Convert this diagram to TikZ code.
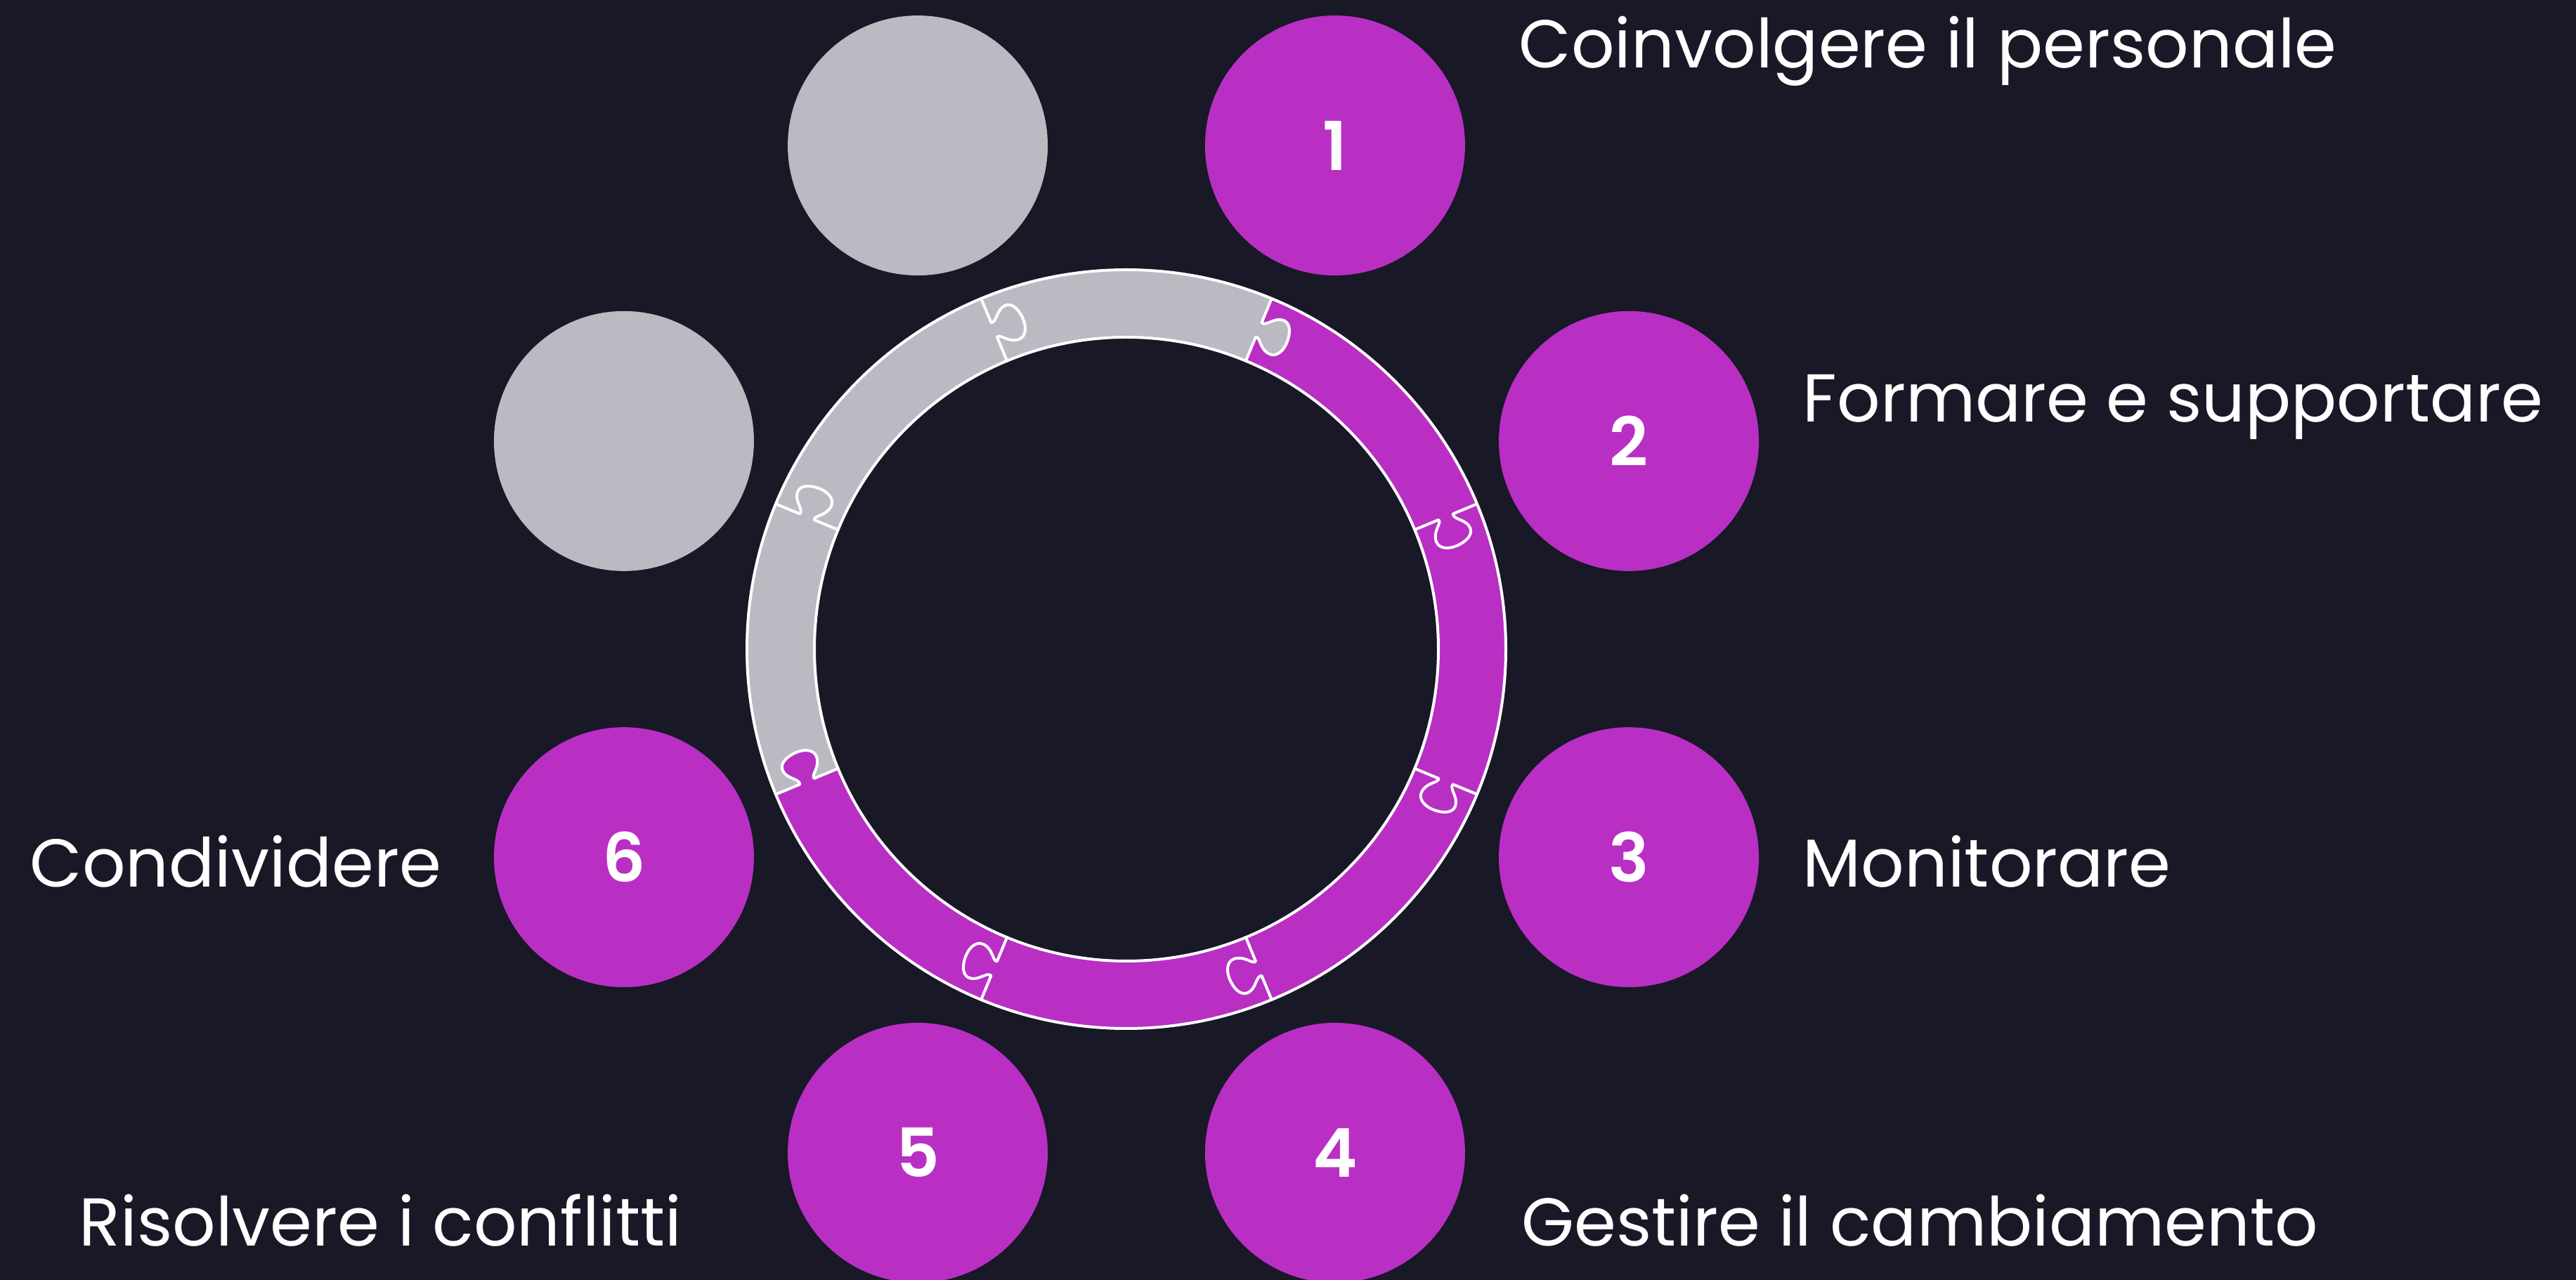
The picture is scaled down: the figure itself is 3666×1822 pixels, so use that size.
\documentclass[tikz,border=0pt]{standalone}
\usepackage{fontspec}
\setmainfont{Poppins}
\IfFontExistsTF{Poppins SemiBold}{\newfontfamily\numfont{Poppins SemiBold}}{\newcommand\numfont{\bfseries}}
\definecolor{bg}{HTML}{181826}
\definecolor{mag}{HTML}{B92FC4}
\definecolor{gry}{HTML}{B9BAC2}
\begin{document}
\begin{tikzpicture}[x=0.25pt,y=0.25pt,
  numc/.style={circle, fill=mag, minimum size=92.5pt, inner sep=0pt, text=white, font=\fontsize{24}{24}\selectfont\numfont},
  grc/.style={circle, fill=gry, minimum size=92.5pt, inner sep=0pt},
  lbl/.style={anchor=base west, inner sep=0pt, text=white, font=\fontsize{24.1}{28}\selectfont},
  ringline/.style={draw=white, line width=1pt, line join=round, line cap=round}]
\fill[bg] (0,0) rectangle (3666,1822);
\useasboundingbox (0,0) rectangle (3666,1822);
\def\knob{(481,0) .. controls (484,-6) and (466,-12) .. (466,-28) .. controls (466,-38) and (477,-44) .. (490,-44) .. controls (506,-44) and (518,-38) .. (518,-28) .. controls (518,-14) and (500,-8) .. (503,0)}
\begin{scope}[shift={(1603,898)}]
  % ring sectors
  \fill[mag] (67.5:540) arc[start angle=67.5, end angle=-157.5, radius=540] -- (-157.5:444) arc[start angle=-157.5, end angle=67.5, radius=444] -- cycle;
  \fill[gry] (67.5:540) arc[start angle=67.5, end angle=202.5, radius=540] -- (202.5:444) arc[start angle=202.5, end angle=67.5, radius=444] -- cycle;
  % tabs that cross a colour boundary
  \fill[gry, rotate=67.5] \knob -- cycle;
  \fill[mag, rotate=202.5] \knob -- cycle;
  % outlines
  \draw[ringline] (0,0) circle[radius=540];
  \draw[ringline] (0,0) circle[radius=444];
  \foreach \a in {22.5,67.5,112.5,157.5,202.5,247.5,292.5,337.5}
    \draw[ringline, rotate=\a] (444,0) -- \knob -- (540,0);
  % circles
  \node[numc] (n1) at (67.5:776) {1};
  \node[numc] (n2) at (22.5:774) {2};
  \node[numc] (n3) at (-22.5:774) {3};
  \node[numc] (n4) at (-67.5:776) {4};
  \node[numc] (n5) at (-112.5:776) {5};
  \node[numc] (n6) at (-157.5:774) {6};
  \node[grc] (g1) at (157.5:774) {};
  \node[grc] (g2) at (112.5:776) {};
\end{scope}
\node[lbl] (l1) at (2161,1725) {Coinvolgere il personale};
\node[lbl] (l2) at (2565,1221) {Formare e supportare};
\node[lbl] (l3) at (2565,559) {Monitorare};
\node[lbl] (l4) at (2165,49) {Gestire il cambiamento};
\node[lbl] (l5) at (112,49) {Risolvere i conflitti};
\node[lbl] (l6) at (42,559) {Condividere};
\end{tikzpicture}
\end{document}
